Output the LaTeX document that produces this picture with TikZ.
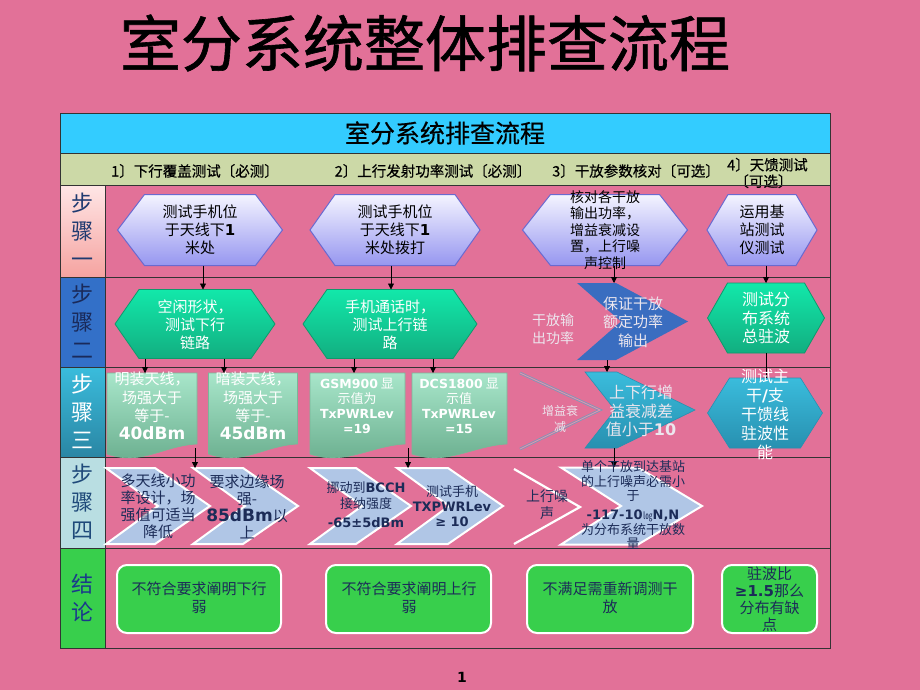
\documentclass[tikz,border=0pt]{standalone}
\usepackage{fontspec}
\setmainfont{Noto Sans CJK SC}
\newfontfamily\vb{DejaVu Sans}
\newfontfamily\titlefont{Noto Sans CJK SC}[FakeBold=1]
\newfontfamily\hdrfont{Noto Sans CJK SC}[FakeBold=0.5]
\usetikzlibrary{arrows.meta,calc}
\definecolor{bgpink}{HTML}{E27198}
\definecolor{hdrcyan}{HTML}{33CCFF}
\definecolor{subg}{HTML}{CCD9A7}
\definecolor{navy}{HTML}{1C2C58}
\definecolor{labnavy}{HTML}{1F3A70}
\definecolor{labnavyb}{HTML}{1A2A5A}
\definecolor{labnavyc}{HTML}{1F4A7A}
\definecolor{labnavyd}{HTML}{1A3A8A}
\definecolor{lab2fill}{HTML}{3370C8}
\definecolor{lab3bot}{HTML}{2A86A4}
\definecolor{lab4fill}{HTML}{B9DEE2}
\definecolor{lab1top}{HTML}{FFE6E6}
\definecolor{lab1bot}{HTML}{F5A3A0}
\definecolor{lavtop}{HTML}{F4F4FF}
\definecolor{lavbot}{HTML}{9696F0}
\definecolor{lavline}{HTML}{6A6AD0}
\definecolor{grtop}{HTML}{12E8AA}
\definecolor{grbot}{HTML}{12AE80}
\definecolor{grline}{HTML}{0E9A6C}
\definecolor{doctop}{HTML}{A8E6CA}
\definecolor{docbot}{HTML}{68AC8C}
\definecolor{docline}{HTML}{78B898}
\definecolor{tealtop}{HTML}{3ABCDC}
\definecolor{tealbot}{HTML}{2890B0}
\definecolor{chevblue}{HTML}{3A6DC0}
\definecolor{lightblue}{HTML}{B0C6E6}
\definecolor{concgreen}{HTML}{38CF4C}
\definecolor{outlinec}{HTML}{7A9AB8}
\definecolor{softw}{HTML}{ECE6EE}
\newcommand\hexat[3]{\path[#3] (#1.west) -- ([xshift=#2]#1.north west) -- ([xshift=-#2]#1.north east) -- (#1.east) -- ([xshift=-#2]#1.south east) -- ([xshift=#2]#1.south west) -- cycle;}
\newcommand\chevat[4]{\path[#4] (#1.north west) -- ([xshift=-#2]#1.north east) -- (#1.east) -- ([xshift=-#2]#1.south east) -- (#1.south west) -- ([xshift=#3]#1.west) -- cycle;}
\newcommand\docat[2]{\path[#2] (#1.north west) -- (#1.north east) -- ([yshift=10pt]#1.south east) .. controls ([xshift=-35pt,yshift=8pt]#1.south east) and ([xshift=35pt,yshift=-12pt]#1.south west) .. (#1.south west) -- cycle;}
\begin{document}
\begin{tikzpicture}[x=1pt,y=-1pt,
  sbox/.style={inner sep=0pt,outer sep=0pt,draw=none},
  txt/.style={align=center,inner sep=0pt,font=\fontsize{15}{18}\selectfont},
  arr/.style={-{Triangle[length=6pt,width=6pt]},black,line width=0.8pt},
  tline/.style={draw=black!80,line width=0.8pt},
  lab/.style={align=center,inner sep=0pt,font=\fontsize{22}{28}\selectfont},
  lavhex/.style={top color=lavtop,bottom color=lavbot,draw=lavline,line width=1pt},
  grhex/.style={top color=grtop,bottom color=grbot,draw=grline,line width=0.8pt},
  docsty/.style={top color=doctop,bottom color=docbot,draw=docline,line width=0.6pt},
  tealsty/.style={top color=tealtop,bottom color=tealbot,draw=tealbot,line width=0.6pt},
  lbchev/.style={fill=lightblue,draw=white,line width=2pt},
  concbox/.style={fill=concgreen,draw=white,line width=2pt,rounded corners=10pt,inner sep=0pt}
]
\useasboundingbox (0,0) rectangle (920,690);
\fill[bgpink] (0,0) rectangle (920,690);
% title
\node[inner sep=0pt,font=\titlefont\fontsize{61}{61}\selectfont] (title) at (425,43) {室分系统整体排查流程};
% table header
\fill[hdrcyan] (60,113) rectangle (830,153);
\fill[subg] (60,153) rectangle (830,185);
\node[txt,font=\hdrfont\fontsize{25}{25}\selectfont] (hdr) at (445,133) {室分系统排查流程};
\node[txt,font=\hdrfont\fontsize{14.5}{16}\selectfont] (s1) at (195,171) {1〕下行覆盖测试〔必测〕};
\node[txt,font=\hdrfont\fontsize{14.5}{16}\selectfont] (s2) at (433,171) {2〕上行发射功率测试〔必测〕};
\node[txt,font=\hdrfont\fontsize{14.5}{16}\selectfont] (s3) at (636,171) {3〕干放参数核对〔可选〕};
\node[txt,font=\hdrfont\fontsize{14.5}{16.5}\selectfont,align=left,anchor=west] (s4) at (727,173) {4〕天馈测试\\\hspace*{0.5em}〔可选〕};
% row label cells
\path[top color=lab1top,bottom color=lab1bot] (60,185) rectangle (105,277);
\fill[lab2fill] (60,277) rectangle (105,367);
\path[top color=tealtop,bottom color=lab3bot] (60,367) rectangle (105,457);
\fill[lab4fill] (60,457) rectangle (105,548);
\fill[concgreen] (60,548) rectangle (105,648);
% grid
\draw[tline] (60,113) rectangle (830,648);
\foreach \yy in {153,185,277,367,457,548} {\draw[tline] (60,\yy) -- (830,\yy);}
\draw[tline] (105,185) -- (105,648);
% labels
\node[lab,text=labnavy] (L1) at (82,230) {步\\骤\\一};
\node[lab,text=labnavyb] (L2) at (82,321) {步\\骤\\二};
\node[lab,text=white] (L3) at (82,411) {步\\骤\\三};
\node[lab,text=labnavyc] (L4) at (82,502) {步\\骤\\四};
\node[lab,text=labnavyd] (L5) at (82,598) {结\\论};
% ---------- shape frames ----------
\node[sbox,minimum width=165pt,minimum height=71pt] (h1a) at (200,230) {};
\node[sbox,minimum width=170pt,minimum height=71pt] (h1b) at (395,230) {};
\node[sbox,minimum width=165pt,minimum height=71pt] (h1c) at (605,230) {};
\node[sbox,minimum width=110pt,minimum height=71pt] (h1d) at (762,230) {};
\node[sbox,minimum width=160pt,minimum height=69pt] (h2a) at (195,324) {};
\node[sbox,minimum width=174pt,minimum height=69pt] (h2b) at (390,324) {};
\node[sbox,minimum width=111pt,minimum height=77pt] (ch2) at (632.5,321.5) {};
\node[sbox,minimum width=117pt,minimum height=70pt] (h2d) at (766,318) {};
\node[sbox,minimum width=90pt,minimum height=81pt] (d3a) at (152,413.5) {};
\node[sbox,minimum width=89pt,minimum height=81pt] (d3b) at (253,413.5) {};
\node[sbox,minimum width=95pt,minimum height=81pt] (d3c) at (357.5,413.5) {};
\node[sbox,minimum width=95pt,minimum height=81pt] (d3d) at (459.5,413.5) {};
\node[sbox,minimum width=110pt,minimum height=76pt] (ch3) at (640,410) {};
\node[sbox,minimum width=115pt,minimum height=70pt] (h3d) at (765,413) {};
\node[sbox,minimum width=104pt,minimum height=76pt] (c4a) at (158,506) {};
\node[sbox,minimum width=105pt,minimum height=76pt] (c4b) at (245.5,506) {};
\node[sbox,minimum width=101pt,minimum height=76pt] (c4c) at (360.5,506) {};
\node[sbox,minimum width=106pt,minimum height=76pt] (c4d) at (450,506) {};
\node[sbox,minimum width=141pt,minimum height=77pt] (c4f) at (631.5,506) {};
% ---------- shapes ----------
\hexat{h1a}{27pt}{lavhex}
\hexat{h1b}{25pt}{lavhex}
\hexat{h1c}{28pt}{lavhex}
\hexat{h1d}{21pt}{lavhex}
\hexat{h2a}{24pt}{grhex}
\hexat{h2b}{24pt}{grhex}
\chevat{ch2}{72pt}{44pt}{fill=chevblue}
\hexat{h2d}{20pt}{grhex}
\docat{d3a}{docsty}
\docat{d3b}{docsty}
\docat{d3c}{docsty}
\docat{d3d}{docsty}
\coordinate (o3a) at (520,373);
\coordinate (o3b) at (600,410);
\coordinate (o3c) at (520,449);
\draw[outlinec,line width=2.6pt,line join=miter] (o3a) -- (o3b) -- (o3c);
\draw[bgpink!80!white,line width=0.9pt,line join=miter] (o3a) -- (o3b) -- (o3c);
\chevat{ch3}{78pt}{30pt}{tealsty}
\hexat{h3d}{22pt}{tealsty}
\chevat{c4a}{55pt}{52pt}{lbchev}
\chevat{c4b}{55pt}{52pt}{lbchev}
\chevat{c4c}{55pt}{52pt}{lbchev}
\chevat{c4d}{55pt}{52pt}{lbchev}
\coordinate (o4a) at (514,469);
\coordinate (o4b) at (580,507);
\coordinate (o4c) at (514,544);
\draw[white,line width=2.2pt,line join=miter] (o4a) -- (o4b) -- (o4c);
\chevat{c4f}{64pt}{60pt}{lbchev}
% conclusion boxes
\node[concbox,minimum width=164pt,minimum height=68pt] (k1) at (199,599) {};
\node[concbox,minimum width=165pt,minimum height=68pt] (k2) at (408.5,599) {};
\node[concbox,minimum width=166pt,minimum height=68pt] (k3) at (610,599) {};
\node[concbox,minimum width=95pt,minimum height=68pt] (k4) at (769.5,599) {};
% ---------- connectors ----------
\draw[arr] ([xshift=3pt]h1a.south) -- ([xshift=8pt]h2a.north);
\draw[arr] ([xshift=-4pt]h1b.south) -- ([xshift=1pt]h2b.north);
\draw[arr] ([xshift=9pt]h1c.south) -- ([xshift=-18.5pt]ch2.north);
\draw[arr] ([xshift=4pt]h1d.south) -- (h2d.north);
\draw[arr] ([xshift=-50pt]h2a.south) -- ([xshift=-7pt]d3a.north);
\draw[arr] ([xshift=29pt]h2a.south) -- ([xshift=-29pt]d3b.north);
\draw[arr] ([xshift=-36pt]h2b.south) -- ([xshift=-3.5pt]d3c.north);
\draw[arr] ([xshift=43pt]h2b.south) -- ([xshift=-26.5pt]d3d.north);
\draw[arr] ([xshift=-25.5pt]ch2.south) -- ([xshift=-33pt]ch3.north);
\draw[black,line width=0.8pt] (h2d.south) -- ([xshift=1pt]h3d.north);
\draw[arr] ([xshift=-2pt,yshift=6pt]d3a.south east) -- ([xshift=2pt]c4b.north west);
\draw[arr] ([xshift=3pt,yshift=6pt]d3c.south east) -- ([xshift=11pt]c4d.north west);
\draw[arr] ([xshift=-26pt]ch3.south) -- ([xshift=-17.5pt]c4f.north);
% ---------- texts ----------
\node[txt] (t1a) at (200,230) {测试手机位\\于天线下{\vb\bfseries 1}\\米处};
\node[txt] (t1b) at (395,230) {测试手机位\\于天线下{\vb\bfseries 1}\\米处拨打};
\node[txt,font=\fontsize{14}{16.6}\selectfont] (t1c) at (605,230) {核对各干放\\输出功率，\\增益衰减设\\置，上行噪\\声控制};
\node[txt] (t1d) at (762,230) {运用基\\站测试\\仪测试};
\node[txt,text=white] (t2a) at (195,325) {空闲形状，\\测试下行\\链路};
\node[txt,text=white] (t2b) at (390,325) {手机通话时，\\测试上行链\\路};
\node[txt,font=\fontsize{14}{18}\selectfont,text=softw] (t2c1) at (553,329) {干放输\\出功率};
\node[txt,text=softw,font=\fontsize{15}{18.5}\selectfont] (t2c2) at (633,322) {保证干放\\额定功率\\输出};
\node[txt,text=white,font=\fontsize{16}{18.5}\selectfont] (t2d) at (766,318) {测试分\\布系统\\总驻波};
\node[txt,text=white,font=\fontsize{15}{18.3}\selectfont] (t3a) at (152,406) {明装天线，\\场强大于\\等于-\\{\vb\bfseries\fontsize{17}{18.3}\selectfont 40dBm}};
\node[txt,text=white,font=\fontsize{15}{18.3}\selectfont] (t3b) at (253,406) {暗装天线，\\场强大于\\等于-\\{\vb\bfseries\fontsize{17}{18.3}\selectfont 45dBm}};
\node[txt,text=white,font=\fontsize{13}{15}\selectfont] (t3c) at (357,406) {{\vb\bfseries\fontsize{12.5}{15}\selectfont GSM900} 显\\示值为\\{\vb\bfseries\fontsize{12.5}{15}\selectfont TxPWRLev}\\{\vb\bfseries\fontsize{12.5}{15}\selectfont =19}};
\node[txt,text=white,font=\fontsize{13}{15}\selectfont] (t3d) at (459,406) {{\vb\bfseries\fontsize{12.5}{15}\selectfont DCS1800} 显\\示值\\{\vb\bfseries\fontsize{12.5}{15}\selectfont TxPWRLev}\\{\vb\bfseries\fontsize{12.5}{15}\selectfont =15}};
\node[txt,text=softw,font=\fontsize{12}{16}\selectfont] (t3e) at (560,419) {增益衰\\减};
\node[txt,text=softw,font=\fontsize{16}{18.5}\selectfont] (t3f) at (641,411) {上下行增\\益衰减差\\值小于{\vb\bfseries\fontsize{16}{18.5}\selectfont 10}};
\node[txt,text=white,font=\fontsize{16}{19}\selectfont] (t3g) at (765,414) {测试主\\干{\vb\bfseries /}支\\干馈线\\驻波性\\能};
\node[txt,text=navy,font=\fontsize{15}{17}\selectfont] (t4a) at (158,506) {多天线小功\\率设计，场\\强值可适当\\降低};
\node[txt,text=navy,font=\fontsize{15}{17}\selectfont] (t4b) at (247,507) {要求边缘场\\强-\\{\vb\bfseries\fontsize{17}{17}\selectfont 85dBm}以\\上};
\node[txt,text=navy,font=\fontsize{13}{15.5}\selectfont] (t4c) at (366,505) {挪动到{\vb\bfseries BCCH}\\接纳强度\\[4pt]{\vb\bfseries -65±5dBm}};
\node[txt,text=navy,font=\fontsize{13}{15}\selectfont] (t4d) at (452,506) {测试手机\\{\vb\bfseries TXPWRLev}\\{\vb\bfseries ≥ 10}};
\node[txt,text=navy,font=\fontsize{14}{17}\selectfont] (t4e) at (547,505) {上行噪\\声};
\node[txt,text=navy,font=\fontsize{13}{14.3}\selectfont] (t4f) at (633,505) {单个干放到达基站\\的上行噪声必需小\\于\\[5pt]{\vb\bfseries -117-10}{\fontsize{10}{12}\selectfont ㏒}{\vb\bfseries N,N}\\为分布系统干放数\\量};
\node[txt,text=navy] (tk1) at (199,598) {不符合要求阐明下行\\弱};
\node[txt,text=navy] (tk2) at (409,598) {不符合要求阐明上行\\弱};
\node[txt,text=navy] (tk3) at (610,598) {不满足需重新调测干\\放};
\node[txt,text=navy,font=\fontsize{15}{17}\selectfont] (tk4) at (769.5,599) {驻波比\\{\vb\bfseries ≥1.5}那么\\分布有缺\\点};
\node[inner sep=0pt,font=\vb\bfseries\fontsize{14}{14}\selectfont] (pg) at (462,677) {1};
\end{tikzpicture}
\end{document}
